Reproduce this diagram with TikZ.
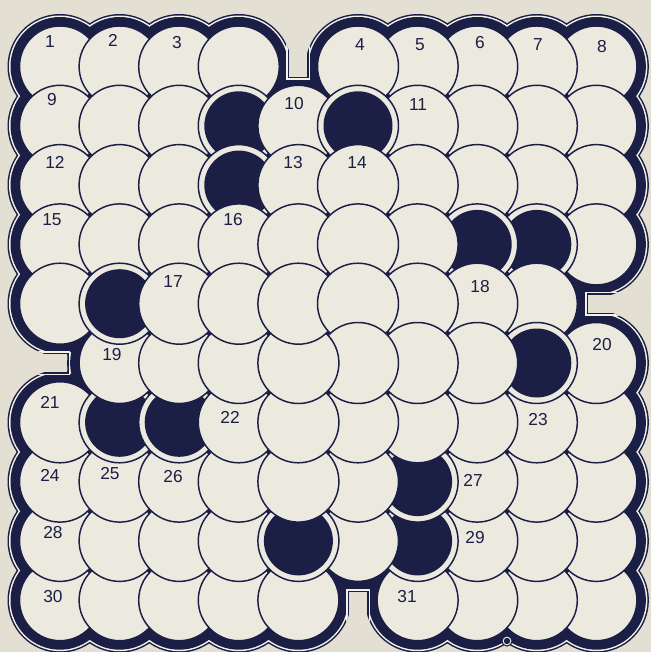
\documentclass[tikz,border=0pt]{standalone}
\usepackage{fontspec}
\setmainfont{Liberation Sans}
\definecolor{ink}{HTML}{1B1E45}
\definecolor{paper}{HTML}{E3DFD2}
\definecolor{disc}{HTML}{ECE9DF}
\definecolor{shine}{HTML}{F4F2EC}
\tikzset{
  lab/.style={text=ink,font=\fontsize{13}{13}\selectfont,inner sep=0pt},
  scaledisc/.style={fill=disc,draw=ink,line width=1.1pt},
  slotwall/.style={shine,line width=18pt,line cap=rect},
  slotline/.style={ink,line width=15.75pt,line cap=rect},
  slotgap/.style={paper,line width=13.5pt,line cap=rect}
}
\newcommand\cx[1]{60+(#1-1)*59.6}
\newcommand\cy[1]{66.5+(#1-1)*59.3}
\newcommand\fc[2]{({\cx{#1}},{\cy{#2}}) circle[radius=39.375pt]}
\newcommand\slot[8]{%
  \begin{scope}
    \clip \fc{#3}{#4} \fc{#5}{#6} \fc{#7}{#8};
    \draw[slotwall] #1 -- #2;
    \draw[slotline] #1 -- #2;
  \end{scope}
  \draw[slotgap] #1 -- #2;
}
\newcommand\disc[2]{%
  \fill[scaledisc] ({\cx{#1}},{\cy{#2}}) circle[radius=30.375pt];
  \pgfmathtruncatemacro\blk{((#1==4)&&(#2==2))||((#1==6)&&(#2==2))||((#1==4)&&(#2==3))||((#1==8)&&(#2==4))||((#1==9)&&(#2==4))||((#1==2)&&(#2==5))||((#1==9)&&(#2==6))||((#1==2)&&(#2==7))||((#1==3)&&(#2==7))||((#1==7)&&(#2==8))||((#1==5)&&(#2==9))||((#1==7)&&(#2==9))}
  \ifnum\blk=1
    \fill[ink] ({\cx{#1}},{\cy{#2}}) circle[radius=25.875pt];
  \fi
}
\begin{document}
\begin{tikzpicture}[x=0.75pt,y=-0.75pt]
\useasboundingbox (0,0) rectangle (651,652);
\fill[paper] (0,0) rectangle (651,652);
\begin{scope}
\clip (0,0) rectangle (651,652);
% frame: outer thin line, white line, thick band
\foreach \col/\rad in {ink/39.375pt, shine/38.25pt, ink/37.125pt}{
  \foreach \i in {1,...,10}{\foreach \j in {1,...,10}{
    \pgfmathtruncatemacro\miss{((\i==5)&&(\j==1))||((\i==10)&&(\j==5))||((\i==1)&&(\j==6))||((\i==6)&&(\j==10))}
    \ifnum\miss=0
      \fill[\col] ({\cx{\i}},{\cy{\j}}) circle[radius=\rad];
    \fi
  }}
}
% square-ended notches in the frame
\slot{(298.4,-20)}{(298.4,68)}{5}{2}{4}{1}{6}{1}
\slot{(-20,363)}{(58,363)}{1}{5}{1}{7}{2}{6}
\slot{(680,303.7)}{(597,303.7)}{10}{4}{10}{6}{9}{5}
\slot{(358,680)}{(358,601)}{5}{10}{7}{10}{6}{9}
% scales: outer ones first, inner ones on top
\foreach \L in {39,38,...,4}{
  \foreach \i in {1,...,10}{\foreach \j in {1,...,10}{
    \pgfmathtruncatemacro\k{4*round(abs(\i-5.5)+abs(\j-5.5))+(((\i==5)&&(\j<=5))||((\i==6)&&(\j>=6)))+2*(((\j==6)&&(\i<=5))||((\j==5)&&(\i>=6)))}
    \ifnum\i=6 \ifnum\j=5 \def\k{4}\fi \ifnum\j=6 \def\k{7}\fi \fi
    \ifnum\k=\L
      \pgfmathtruncatemacro\miss{((\i==5)&&(\j==1))||((\i==10)&&(\j==5))||((\i==1)&&(\j==6))||((\i==6)&&(\j==10))}
      \ifnum\miss=0
        \disc{\i}{\j}
      \fi
    \fi
  }}
}
% close the pinwheel at the centre
\begin{scope}
  \clip ({\cx{6}},{\cy{5}}) circle[radius=31.5pt];
  \fill[scaledisc] ({\cx{6}},{\cy{6}}) circle[radius=30.375pt];
\end{scope}
% small ornament on the lower frame
\fill[shine,draw=ink,line width=0.8pt] (507,641) circle[radius=3.8pt];
\fill[ink] (507,641) circle[radius=2.4pt];
\end{scope}
% numbers
\node[lab] (l1) at (50,42) {1};
\node[lab] (l2) at (113,40) {2};
\node[lab] (l3) at (177,43) {3};
\node[lab] (l4) at (360,45) {4};
\node[lab] (l5) at (420,45) {5};
\node[lab] (l6) at (480,43) {6};
\node[lab] (l7) at (538,45) {7};
\node[lab] (l8) at (602,47) {8};
\node[lab] (l9) at (52,100) {9};
\node[lab] (l10) at (294,104) {10};
\node[lab] (l11) at (418,105) {11};
\node[lab] (l12) at (55,162) {12};
\node[lab] (l13) at (293,163) {13};
\node[lab] (l14) at (357,163) {14};
\node[lab] (l15) at (52,220) {15};
\node[lab] (l16) at (233,220) {16};
\node[lab] (l17) at (173,282) {17};
\node[lab] (l18) at (480,287) {18};
\node[lab] (l19) at (112,355) {19};
\node[lab] (l20) at (602,345) {20};
\node[lab] (l21) at (50,402) {21};
\node[lab] (l22) at (230,417) {22};
\node[lab] (l23) at (538,420) {23};
\node[lab] (l24) at (50,475) {24};
\node[lab] (l25) at (110,474) {25};
\node[lab] (l26) at (173,477) {26};
\node[lab] (l27) at (473,480) {27};
\node[lab] (l28) at (53,533) {28};
\node[lab] (l29) at (475,538) {29};
\node[lab] (l30) at (53,597) {30};
\node[lab] (l31) at (407,597) {31};
\end{tikzpicture}
\end{document}
